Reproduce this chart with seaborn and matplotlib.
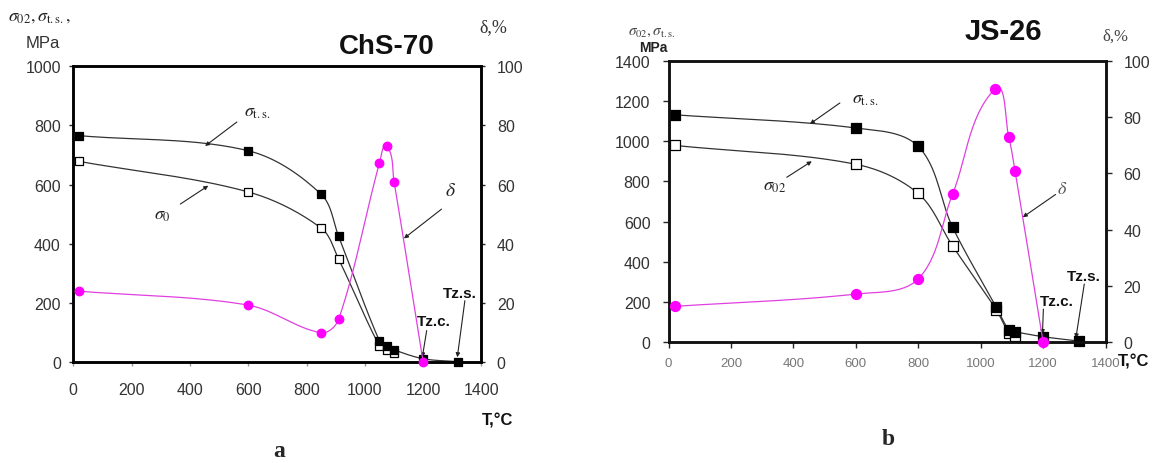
import numpy as np
import pandas as pd
import matplotlib
matplotlib.use('Agg')
import matplotlib.pyplot as plt
import seaborn as sns

# ---------------- data: panel a (ChS-70) ----------------
a_T_ts = [20, 600, 850, 910, 1050, 1075, 1100, 1200, 1320]
a_ts = [765, 714, 567, 425, 72, 55, 42, 12, 2]
a_T_s0 = [20, 600, 850, 910, 1050, 1075, 1100]
a_s0 = [678, 575, 453, 348, 55, 42, 30]
a_T_d = [20, 600, 850, 910, 1050, 1075, 1100, 1200]
a_d = [24, 19.3, 10, 14.5, 67.2, 73, 61, 0]

# ---------------- data: panel b (JS-26) ----------------
b_T_ts = [20, 600, 800, 910, 1050, 1090, 1110, 1200, 1315]
b_ts = [1133, 1067, 975, 572, 172, 60, 50, 25, 3]
b_T_s02 = [20, 600, 800, 910, 1050, 1090, 1110]
b_s02 = [980, 886, 740, 478, 160, 45, 28]
b_T_d = [20, 600, 800, 910, 1045, 1090, 1110, 1200]
b_d = [12.6, 17, 22.4, 52.6, 90, 73, 61, 0]

x_ticks = [0, 200, 400, 600, 800, 1000, 1200, 1400]
a_y_ticks = [0, 200, 400, 600, 800, 1000]
b_y_ticks = [0, 200, 400, 600, 800, 1000, 1200, 1400]
d_ticks = [0, 20, 40, 60, 80, 100]

sns.set_style('white')
plt.rcParams['font.family'] = ['Liberation Sans', 'DejaVu Sans']
plt.rcParams['mathtext.fontset'] = 'stix'

PINK_LINE = '#E040E0'
PINK = '#FF00FF'
LINE = '#333333'


def smooth(xs, ys, sx, sy, n=30, k=0.33):
    """Excel-like smoothed line: cubic Bezier with chord-scaled tangents (pixel space)."""
    P = np.column_stack([np.asarray(xs, float) / sx, np.asarray(ys, float) / sy])
    m = len(P)
    T = np.zeros_like(P)
    for i in range(m):
        a = P[i - 1] if i > 0 else P[i]
        b = P[i + 1] if i < m - 1 else P[i]
        d = b - a
        nrm = np.hypot(*d)
        T[i] = d / nrm if nrm > 0 else d
    out = []
    for i in range(m - 1):
        p1, p2 = P[i], P[i + 1]
        L = np.hypot(*(p2 - p1))
        c1 = p1 + T[i] * L * k
        c2 = p2 - T[i + 1] * L * k
        t = np.linspace(0, 1, n, endpoint=(i == m - 2))[:, None]
        seg = (1 - t) ** 3 * p1 + 3 * (1 - t) ** 2 * t * c1 + 3 * (1 - t) * t ** 2 * c2 + t ** 3 * p2
        out.append(seg)
    S = np.vstack(out)
    return S[:, 0] * sx, S[:, 1] * sy


def curve(ax, xs, ys, sx, sy, color, lw=0.9):
    cx, cy = smooth(xs, ys, sx, sy)
    sns.lineplot(x=cx, y=cy, sort=False, estimator=None, color=color, lw=lw, ax=ax, zorder=2)


def marks(ax, xs, ys, marker, face, edge, s):
    sns.scatterplot(x=xs, y=ys, marker=marker, s=s, color=face, edgecolor=edge,
                    linewidth=0.9, ax=ax, zorder=4, clip_on=False)


ARW = dict(arrowstyle='-|>', color='#222', lw=0.8, mutation_scale=6, shrinkA=0, shrinkB=0)

fig = plt.figure(figsize=(11.61, 4.64), dpi=100)
W, H = 1161, 464

# ---------------- panel a ----------------
axA = fig.add_axes([73.3 / W, 1 - 363.3 / H, (481.5 - 73.3) / W, (363.3 - 67) / H])
axA2 = axA.twinx()
sxA = 1400 / 408.2
syA = 1000 / 296.3
sdA = 100 / 296.3

curve(axA, a_T_ts, a_ts, sxA, syA, LINE)
curve(axA, a_T_s0, a_s0, sxA, syA, LINE)
marks(axA, a_T_s0, a_s0, 's', 'white', 'black', 30)
marks(axA, a_T_ts, a_ts, 's', 'black', 'black', 30)
curve(axA2, a_T_d, a_d, sxA, sdA, PINK_LINE)
marks(axA2, a_T_d, a_d, 'o', PINK, PINK, 38)

axA.set_xlim(0, 1400)
axA.set_ylim(0, 1000)
axA2.set_ylim(0, 100)
axA.set_xticks(x_ticks)
axA.set_yticks(a_y_ticks)
axA2.set_yticks(d_ticks)
axA.tick_params(axis='y', direction='out', length=3, width=1, pad=6, labelsize=11.5,
                labelcolor='#333333', left=True)
axA.tick_params(axis='x', direction='out', length=3, width=1, pad=11, labelsize=11.5,
                labelcolor='#333333', bottom=True, color='#999999')
axA2.tick_params(axis='y', direction='out', length=3, width=1, pad=8, labelsize=11.5,
                 labelcolor='#333333', right=True)
for a in (axA, axA2):
    for sp in a.spines.values():
        sp.set_linewidth(1.8)
        sp.set_color('black')
    a.set_xlabel('')
    a.set_ylabel('')
    a.grid(False)
axA.set_facecolor('white')

# annotations panel a
axA.annotate('', xy=(452, 730), xytext=(561, 811), arrowprops=ARW)
axA.text(630, 845, r'$\sigma_{\rm t.s.}$', fontsize=13, ha='center', va='center', color='#222')
axA.annotate('', xy=(463, 596), xytext=(367, 534), arrowprops=ARW)
axA.text(304, 500, r'$\sigma_{0}$', fontsize=13, ha='center', va='center', color='#222')
axA2.annotate('', xy=(1134, 41.8), xytext=(1263, 51.7), arrowprops=ARW)
axA2.text(1292, 57.9, r'$\delta$', fontsize=14, ha='center', va='center', color='#222')
axA.annotate('', xy=(1197, 17), xytext=(1212, 107), arrowprops=ARW)
axA.text(1235, 140, 'Tz.c.', fontsize=11, fontweight='bold', ha='center', va='center', color='#111')
axA.annotate('', xy=(1317, 17), xytext=(1343, 208), arrowprops=ARW)
axA.text(1326, 233, 'Tz.s.', fontsize=11, fontweight='bold', ha='center', va='center', color='#111')

fig.text(40 / W, 1 - 16.7 / H, r'$\sigma_{02},\sigma_{\rm t.s.},$', fontsize=13,
         ha='center', va='center', color='#222')
fig.text(43 / W, 1 - 43 / H, 'MPa', fontsize=12, ha='center', va='center', color='#333')
fig.text(387 / W, 1 - 47 / H, 'ChS-70', fontsize=20, fontweight='bold', ha='center',
         va='center', color='#111')
fig.text(493 / W, 1 - 28 / H, 'δ,%', fontsize=13, family='Liberation Serif',
         ha='center', va='center', color='#333')
fig.text(498 / W, 1 - 421 / H, 'T,°C', fontsize=12, fontweight='bold', ha='center',
         va='center', color='#111')
fig.text(279 / W, 1 - 452 / H, 'a', fontsize=17, fontweight='bold',
         family='Liberation Serif', ha='center', va='center')

# ---------------- panel b ----------------
axB = fig.add_axes([668.5 / W, 1 - 342.7 / H, (1105.5 - 668.5) / W, (342.7 - 62.3) / H])
axB2 = axB.twinx()
sxB = 1400 / 437.0
syB = 1400 / 280.4
sdB = 100 / 280.4

curve(axB, b_T_ts, b_ts, sxB, syB, LINE)
curve(axB, b_T_s02, b_s02, sxB, syB, LINE)
marks(axB, b_T_s02, b_s02, 's', 'white', 'black', 48)
marks(axB, b_T_ts, b_ts, 's', 'black', 'black', 48)
curve(axB2, b_T_d, b_d, sxB, sdB, PINK_LINE)
marks(axB2, b_T_d, b_d, 'o', PINK, PINK, 52)

axB.set_xlim(0, 1400)
axB.set_ylim(0, 1400)
axB2.set_ylim(0, 100)
axB.set_xticks(x_ticks)
axB.set_yticks(b_y_ticks)
axB2.set_yticks(d_ticks)
axB.tick_params(axis='y', direction='out', length=4, width=1, pad=9, labelsize=11.5,
                labelcolor='#333333', left=True)
axB.tick_params(axis='x', direction='out', length=4, width=1, pad=7, labelsize=9.5,
                labelcolor='#777777', bottom=True)
axB2.tick_params(axis='y', direction='out', length=4, width=1, pad=9, labelsize=11.5,
                 labelcolor='#333333', right=True)
for a in (axB, axB2):
    for sp in a.spines.values():
        sp.set_linewidth(1.8)
        sp.set_color('#111111')
    a.set_xlabel('')
    a.set_ylabel('')
    a.grid(False)

axB.annotate('', xy=(453, 1087), xytext=(549, 1192), arrowprops=ARW)
axB.text(629, 1212, r'$\sigma_{\rm t.s.}$', fontsize=13, ha='center', va='center', color='#222')
axB.annotate('', xy=(459, 901), xytext=(379, 821), arrowprops=ARW)
axB.text(341, 779, r'$\sigma_{02}$', fontsize=13, ha='center', va='center', color='#222')
axB2.annotate('', xy=(1135, 44.4), xytext=(1240, 52.5), arrowprops=ARW)
axB2.text(1262, 54.5, r'$\delta$', fontsize=13, ha='center', va='center', color='#555')
axB.annotate('', xy=(1198, 38), xytext=(1201, 163), arrowprops=ARW)
axB.text(1245, 205, 'Tz.c.', fontsize=11, fontweight='bold', ha='center', va='center', color='#111')
axB.annotate('', xy=(1305, 17), xytext=(1332, 288), arrowprops=ARW)
axB.text(1329, 330, 'Tz.s.', fontsize=11, fontweight='bold', ha='center', va='center', color='#111')

fig.text(652 / W, 1 - 32 / H, r'$\sigma_{02},\sigma_{\rm t.s.}$', fontsize=11,
         ha='center', va='center', color='#444')
fig.text(653 / W, 1 - 48 / H, 'MPa', fontsize=10, fontweight='bold', ha='center',
         va='center', color='#222')
fig.text(1003 / W, 1 - 32 / H, 'JS-26', fontsize=21, fontweight='bold', ha='center',
         va='center', color='#111')
fig.text(1115 / W, 1 - 37 / H, 'δ,%', fontsize=12, family='Liberation Serif',
         ha='center', va='center', color='#444')
fig.text(1134 / W, 1 - 362 / H, 'T,°C', fontsize=12, fontweight='bold', ha='center',
         va='center', color='#111')
fig.text(888 / W, 1 - 440 / H, 'b', fontsize=17, fontweight='bold',
         family='Liberation Serif', ha='center', va='center')

fig.savefig('out.png', dpi=100, facecolor='white')
